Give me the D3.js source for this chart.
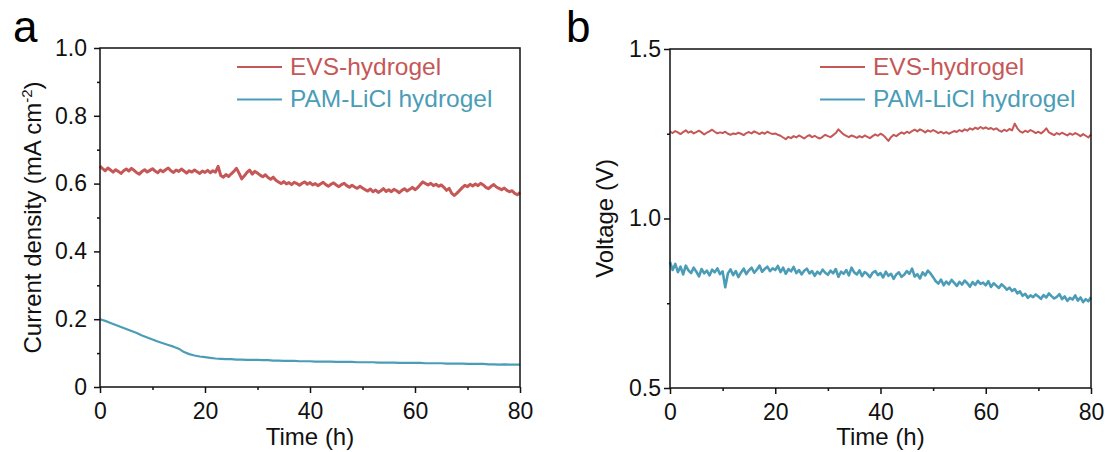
<!DOCTYPE html>
<html lang="en">
<head>
	<meta charset="UTF-8">
	<title>hydrogel stability</title>
	<style>
		* {
			margin: 0;
			padding: 0;
		}
		body {
			background: #fff;
		}
		svg {
			display: block;
			font-family: Arial, "Liberation Sans", Helvetica, sans-serif;
		}
	</style>
</head>
<body>
	<script src="https://cdn.jsdelivr.net/npm/d3@7"></script>
	<script>
		// hours between two samples of each trace
		var noisyStep = 0.5;
		var smoothStep = 1;

		// (a) current density, mA cm-2, one value every 0.5 h
		var evsCurrent = [
			0.652,0.644,0.638,0.646,0.640,0.634,0.641,0.636,0.630,0.638,0.643,0.637,0.645,0.639,0.632,0.628,0.636,0.641,0.634,0.639,
			0.644,0.637,0.632,0.640,0.635,0.641,0.646,0.638,0.633,0.640,0.636,0.643,0.637,0.631,0.638,0.634,0.640,0.635,0.630,0.637,
			0.633,0.639,0.632,0.638,0.634,0.651,0.624,0.619,0.627,0.621,0.629,0.636,0.645,0.630,0.614,0.623,0.633,0.640,0.628,0.636,
			0.631,0.625,0.620,0.626,0.618,0.613,0.619,0.610,0.605,0.600,0.606,0.599,0.603,0.597,0.604,0.600,0.595,0.601,0.605,0.598,
			0.603,0.596,0.600,0.594,0.599,0.604,0.597,0.592,0.598,0.602,0.596,0.591,0.597,0.601,0.594,0.589,0.595,0.590,0.586,0.592,
			0.587,0.582,0.578,0.584,0.576,0.581,0.574,0.579,0.585,0.577,0.582,0.576,0.583,0.579,0.573,0.580,0.585,0.578,0.583,0.589,
			0.582,0.588,0.597,0.605,0.600,0.596,0.601,0.594,0.598,0.592,0.596,0.589,0.580,0.586,0.571,0.565,0.572,0.580,0.588,0.595,
			0.591,0.598,0.593,0.599,0.594,0.601,0.596,0.589,0.585,0.592,0.597,0.590,0.586,0.582,0.587,0.580,0.576,0.579,0.571,0.567,
			0.574
		];
		// (a) PAM-LiCl, one value every hour
		var pamCurrent = [
			0.200,0.195,0.189,0.183,0.177,0.171,0.165,0.159,0.152,0.146,
			0.140,0.134,0.129,0.124,0.119,0.113,0.103,0.097,0.093,0.090,
			0.088,0.086,0.084,0.083,0.082,0.082,0.081,0.081,0.080,0.080,
			0.080,0.079,0.079,0.078,0.078,0.077,0.077,0.077,0.076,0.076,
			0.076,0.075,0.075,0.075,0.075,0.074,0.074,0.074,0.074,0.073,
			0.073,0.073,0.073,0.072,0.072,0.072,0.072,0.071,0.071,0.071,
			0.071,0.071,0.070,0.070,0.070,0.070,0.069,0.069,0.069,0.069,
			0.068,0.068,0.068,0.068,0.067,0.067,0.066,0.067,0.066,0.066,
			0.066
		];
		// (b) voltage, V, one value every 0.5 h
		var evsVoltage = [
			1.256,1.252,1.258,1.254,1.249,1.255,1.260,1.253,1.257,1.251,1.255,1.259,1.254,1.248,1.253,1.257,1.262,1.256,1.251,1.254,
			1.252,1.256,1.250,1.247,1.251,1.249,1.253,1.250,1.246,1.252,1.255,1.251,1.257,1.253,1.249,1.254,1.250,1.256,1.252,1.249,
			1.251,1.247,1.244,1.239,1.234,1.241,1.237,1.243,1.239,1.245,1.241,1.236,1.242,1.246,1.240,1.244,1.239,1.236,1.241,1.247,
			1.243,1.240,1.246,1.252,1.263,1.255,1.248,1.244,1.240,1.245,1.242,1.238,1.243,1.239,1.245,1.241,1.237,1.243,1.248,1.244,
			1.250,1.246,1.238,1.229,1.240,1.247,1.243,1.249,1.254,1.250,1.256,1.252,1.258,1.262,1.257,1.263,1.259,1.254,1.260,1.256,
			1.261,1.257,1.252,1.256,1.251,1.255,1.250,1.254,1.258,1.255,1.261,1.257,1.263,1.259,1.266,1.262,1.268,1.264,1.270,1.265,
			1.269,1.264,1.267,1.262,1.266,1.260,1.256,1.262,1.258,1.264,1.260,1.280,1.266,1.257,1.253,1.259,1.255,1.261,1.257,1.252,
			1.256,1.251,1.257,1.266,1.254,1.250,1.246,1.252,1.248,1.253,1.249,1.245,1.251,1.247,1.252,1.248,1.243,1.249,1.244,1.239,
			1.248
		];
		var pamVoltage = [
			0.872,0.848,0.866,0.842,0.858,0.835,0.861,0.847,0.839,0.855,0.843,0.829,0.851,0.838,0.846,0.832,0.849,0.841,0.853,0.836,
			0.844,0.797,0.838,0.850,0.833,0.845,0.827,0.841,0.852,0.836,0.847,0.855,0.840,0.849,0.861,0.843,0.851,0.858,0.845,0.853,
			0.848,0.860,0.842,0.855,0.837,0.851,0.844,0.857,0.839,0.848,0.835,0.846,0.852,0.838,0.845,0.831,0.843,0.836,0.849,0.840,
			0.834,0.846,0.838,0.851,0.828,0.843,0.837,0.848,0.832,0.855,0.841,0.835,0.847,0.830,0.842,0.836,0.827,0.840,0.845,0.833,
			0.839,0.826,0.843,0.831,0.837,0.822,0.835,0.841,0.828,0.834,0.845,0.837,0.852,0.829,0.836,0.823,0.841,0.832,0.846,0.838,
			0.827,0.815,0.808,0.820,0.803,0.814,0.806,0.819,0.810,0.801,0.813,0.805,0.817,0.809,0.799,0.812,0.804,0.816,0.807,0.811,
			0.803,0.815,0.798,0.809,0.802,0.795,0.806,0.799,0.790,0.796,0.786,0.792,0.779,0.785,0.772,0.778,0.766,0.773,0.768,0.776,
			0.770,0.763,0.774,0.767,0.779,0.771,0.764,0.769,0.777,0.762,0.770,0.757,0.766,0.761,0.773,0.758,0.767,0.753,0.762,0.756,
			0.768
		];

		var seriesNames = ['EVS-hydrogel', 'PAM-LiCl hydrogel'];
		var seriesColors = ['#c65757', '#4b9db7'];

		var timeDomain = [0, 80];
		var timeTicks = [0, 20, 40, 60, 80];
		var timeMinor = [10, 30, 50, 70];
		var currentTicks = [0, 0.2, 0.4, 0.6, 0.8, 1.0];
		var currentMinor = [0.1, 0.3, 0.5, 0.7, 0.9];
		var voltageTicks = [0.5, 1.0, 1.5];
		var voltageMinor = [0.75, 1.25];

		var ink = '#111';

		var svg = d3.select('body').append('svg').attr('width', 1110).attr('height', 452);

		function toPoints(values, step) {
			return values.map(function (v, i) {
				return { t: i * step, v: v };
			});
		}

		function styleAxis(g, fontSize) {
			g.select('.domain').remove();
			g.selectAll('.tick line').attr('stroke', ink).attr('stroke-width', 1.5);
			g.selectAll('.tick text').attr('fill', ink).style('font-size', fontSize + 'px').style('font-family', null);
		}

		function drawPanel(p) {
			var x = d3.scaleLinear().domain(timeDomain).range([p.left, p.right]);
			var y = d3.scaleLinear().domain(p.yDomain).range([p.bottom, p.top]);

			// data lines first, frame goes on top
			var line = d3.line()
				.x(function (d) { return x(d.t); })
				.y(function (d) { return y(d.v); });

			p.series.forEach(function (s, i) {
				svg.append('path')
					.datum(toPoints(s.values, s.step))
					.attr('d', line)
					.attr('fill', 'none')
					.attr('stroke', seriesColors[i])
					.attr('stroke-width', s.width)
					.attr('stroke-linejoin', 'round');
			});

			// x axis, major + minor ticks
			svg.append('g')
				.attr('transform', 'translate(0,' + p.bottom + ')')
				.call(d3.axisBottom(x).tickValues(timeTicks).tickSize(6).tickPadding(10))
				.call(styleAxis, 23);
			svg.append('g')
				.attr('transform', 'translate(0,' + p.bottom + ')')
				.call(d3.axisBottom(x).tickValues(timeMinor).tickSize(3).tickFormat(''))
				.call(styleAxis, 23);

			// y axis
			svg.append('g')
				.attr('transform', 'translate(' + p.left + ',0)')
				.call(d3.axisLeft(y).tickValues(p.yTicks).tickSize(6).tickPadding(p.yPad).tickFormat(p.yFormat))
				.call(styleAxis, 23);
			svg.append('g')
				.attr('transform', 'translate(' + p.left + ',0)')
				.call(d3.axisLeft(y).tickValues(p.yMinor).tickSize(3).tickFormat(''))
				.call(styleAxis, 23);

			// box
			svg.append('rect')
				.attr('x', p.left).attr('y', p.top)
				.attr('width', p.right - p.left).attr('height', p.bottom - p.top)
				.attr('fill', 'none').attr('stroke', ink).attr('stroke-width', 1.5);

			// axis titles
			svg.append('text')
				.attr('x', (p.left + p.right) / 2).attr('y', 445)
				.attr('text-anchor', 'middle')
				.attr('fill', ink).style('font-size', '24px')
				.text('Time (h)');

			var yt = svg.append('text')
				.attr('transform', 'translate(' + p.titleX + ',' + ((p.top + p.bottom) / 2) + ') rotate(-90)')
				.attr('text-anchor', 'middle')
				.attr('fill', ink).style('font-size', '24px');
			p.yTitle(yt);

			// panel letter
			svg.append('text')
				.attr('x', p.letterX).attr('y', 42)
				.attr('fill', '#000').style('font-size', '44px')
				.text(p.letter);

			// legend
			seriesNames.forEach(function (name, i) {
				var ly = p.legendY + i * 32.5;
				svg.append('line')
					.attr('x1', p.legendX).attr('x2', p.legendX + 45)
					.attr('y1', ly).attr('y2', ly)
					.attr('stroke', seriesColors[i]).attr('stroke-width', 2);
				svg.append('text')
					.attr('x', p.legendX + 53).attr('y', ly + 7.5)
					.attr('fill', seriesColors[i]).style('font-size', '24.5px')
					.text(name);
			});
		}

		// (a)
		drawPanel({
			left: 100, right: 520, top: 48, bottom: 387,
			yDomain: [0, 1],
			yTicks: currentTicks, yMinor: currentMinor, yPad: 7,
			yFormat: function (d) { return d === 0 ? '0' : d3.format('.1f')(d); },
			titleX: 41,
			yTitle: function (t) {
				t.append('tspan').text('Current density (mA cm');
				t.append('tspan').attr('dy', -9).style('font-size', '15px').text('-2');
				t.append('tspan').attr('dy', 9).text(')');
			},
			letter: 'a', letterX: 13,
			legendX: 237, legendY: 67,
			series: [
				{ values: evsCurrent, step: noisyStep, width: 3 },
				{ values: pamCurrent, step: smoothStep, width: 2.2 }
			]
		});

		// (b)
		drawPanel({
			left: 670, right: 1091, top: 49, bottom: 388,
			yDomain: [0.5, 1.5],
			yTicks: voltageTicks, yMinor: voltageMinor, yPad: 3,
			yFormat: d3.format('.1f'),
			titleX: 613,
			yTitle: function (t) {
				t.text('Voltage (V)');
			},
			letter: 'b', letterX: 566,
			legendX: 820, legendY: 67,
			series: [
				{ values: evsVoltage, step: noisyStep, width: 2 },
				{ values: pamVoltage, step: noisyStep, width: 2.6 }
			]
		});
	</script>
</body>
</html>
